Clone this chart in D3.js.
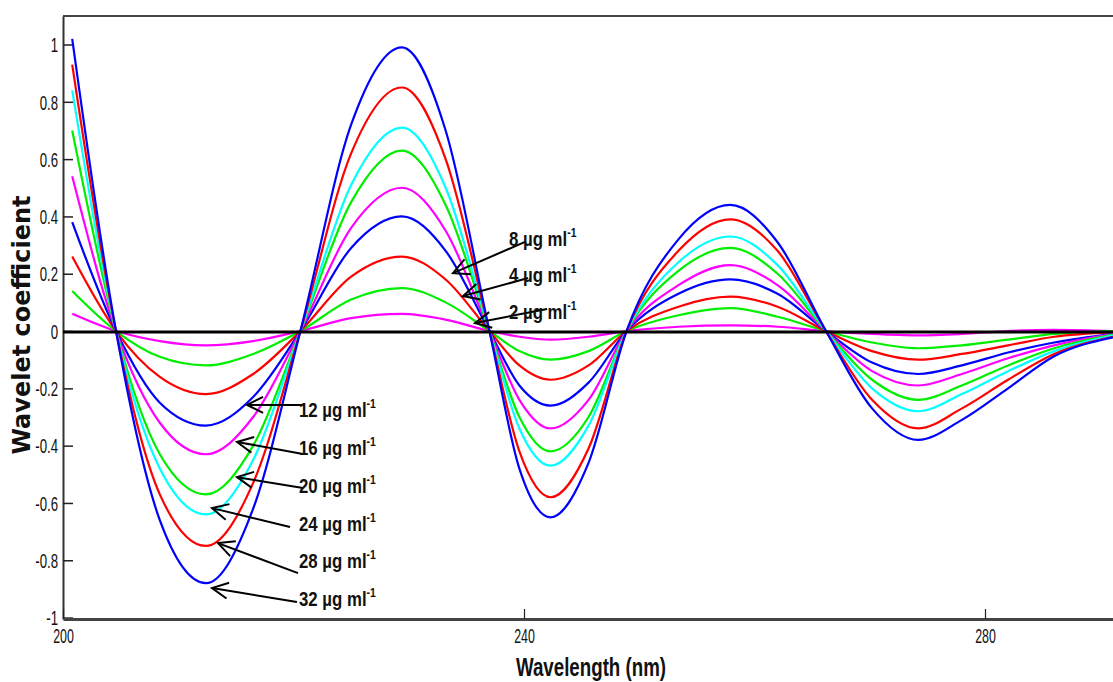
<!DOCTYPE html>
<html><head><meta charset="utf-8">
<script src="https://cdn.jsdelivr.net/npm/d3@7"></script>
<style>
html,body{margin:0;padding:0;background:#fff;overflow:hidden}
svg{display:block}
</style></head>
<body>
<svg id="c" width="1113" height="682"></svg>
<script>
// ---- data ----
const wavelengths = [200.8, 204.6, 208.4, 212.4, 216.5, 220.6, 225.0, 229.4, 233.2, 237.0, 239.6, 242.3, 245.6, 248.9, 253.4, 257.9, 262.0, 266.2, 270.2, 274.2, 278, 282, 286, 291.1];
const concentrations = [2, 4, 8, 12, 16, 20, 24, 28, 32];
const seriesColors = ["#ff00ff", "#00ee00", "#ff0000", "#0000ff", "#ff00ff", "#00ee00", "#00ffff", "#ff0000", "#0000ff"];
const s2  = [0.06, 0, -0.035, -0.05, -0.035, 0, 0.045, 0.06, 0.04, 0, -0.02, -0.03, -0.02, 0, 0.015, 0.02, 0.015, 0, -0.01, -0.015, -0.01, 0, 0.004, 0];
const s4  = [0.14, 0, -0.09, -0.12, -0.08, 0, 0.11, 0.15, 0.10, 0, -0.07, -0.10, -0.07, 0, 0.055, 0.08, 0.05, 0, -0.04, -0.06, -0.05, -0.03, -0.01, 0];
const s8  = [0.26, 0, -0.16, -0.22, -0.15, 0, 0.19, 0.26, 0.18, 0, -0.12, -0.17, -0.12, 0, 0.085, 0.12, 0.085, 0, -0.07, -0.10, -0.08, -0.05, -0.02, -0.005];
const s12 = [0.38, 0, -0.25, -0.33, -0.23, 0, 0.29, 0.40, 0.28, 0, -0.19, -0.26, -0.18, 0, 0.13, 0.18, 0.13, 0, -0.11, -0.15, -0.12, -0.075, -0.04, -0.01];
const s16 = [0.54, 0, -0.32, -0.43, -0.30, 0, 0.36, 0.50, 0.35, 0, -0.24, -0.34, -0.24, 0, 0.16, 0.23, 0.16, 0, -0.14, -0.19, -0.15, -0.095, -0.05, -0.01];
const s20 = [0.70, 0, -0.43, -0.57, -0.40, 0, 0.45, 0.63, 0.44, 0, -0.30, -0.42, -0.30, 0, 0.21, 0.29, 0.20, 0, -0.17, -0.24, -0.19, -0.12, -0.06, -0.012];
const s24 = [0.84, 0, -0.48, -0.64, -0.45, 0, 0.51, 0.71, 0.50, 0, -0.34, -0.47, -0.33, 0, 0.24, 0.33, 0.23, 0, -0.20, -0.28, -0.22, -0.14, -0.07, -0.015];
const s28 = [0.93, 0, -0.57, -0.75, -0.53, 0, 0.62, 0.85, 0.60, 0, -0.42, -0.58, -0.41, 0, 0.28, 0.39, 0.28, 0, -0.24, -0.34, -0.27, -0.17, -0.08, -0.02];
const s32 = [1.02, 0, -0.66, -0.88, -0.62, 0, 0.72, 0.99, 0.70, 0, -0.48, -0.65, -0.46, 0, 0.32, 0.44, 0.31, 0, -0.27, -0.38, -0.31, -0.20, -0.088, -0.022];
const seriesValues = [s2, s4, s8, s12, s16, s20, s24, s28, s32];
const xTicks = [200, 240, 280];
const yTicks = [-1, -0.8, -0.6, -0.4, -0.2, 0, 0.2, 0.4, 0.6, 0.8, 1];
const yTickLabels = ["-1", "-0.8", "-0.6", "-0.4", "-0.2", "0", "0.2", "0.4", "0.6", "0.8", "1"];
// annotations: label concentration, arrow tip (nm, value), arrow tail (nm, value), text anchor (nm, value)
const annConc  = [8, 4, 2, 12, 16, 20, 24, 28, 32];
const annTipX  = [233.84, 234.71, 235.75, 215.97, 215.10, 215.10, 212.93, 213.45, 212.93];
const annTipY  = [0.202, 0.122, 0.028, -0.258, -0.387, -0.510, -0.618, -0.740, -0.897];
const annTailX = [240.09, 240.35, 242.0, 220.74, 220.82, 220.82, 219.70, 220.39, 220.30];
const annTailY = [0.311, 0.185, 0.077, -0.258, -0.429, -0.548, -0.684, -0.845, -0.946];
const annTextX = [238.70, 238.70, 238.70, 220.48, 220.48, 220.48, 220.48, 220.48, 220.48];
const annTextY = [0.297, 0.171, 0.042, -0.300, -0.433, -0.565, -0.698, -0.827, -0.960];

// ---- drawing ----
const svg = d3.select("#c");
const x = d3.scaleLinear().domain([200, 292]).range([63, 1123.3]);
const y = d3.scaleLinear().domain([-1.005, 1.0995]).range([619, 16]);
const SANS = "Liberation Sans, Arial, sans-serif";

// frame
svg.append("line").attr("x1", x(200)).attr("x2", x(292)).attr("y1", y.range()[1]).attr("y2", y.range()[1])
  .attr("stroke", "#444").attr("stroke-width", 2);
svg.append("line").attr("x1", x(292)).attr("x2", x(292)).attr("y1", 16).attr("y2", 619)
  .attr("stroke", "#444").attr("stroke-width", 2);

// y axis (ticks inward)
const yAxisG = svg.append("g").attr("transform", `translate(${x(200)},0)`)
  .call(d3.axisLeft(y).tickValues(yTicks).tickSizeInner(-10).tickSizeOuter(0)
    .tickFormat((d, i) => yTickLabels[i]));
yAxisG.select(".domain").attr("stroke", "#333").attr("stroke-width", 2);
yAxisG.selectAll(".tick line").attr("stroke", "#222").attr("stroke-width", 1.5);
yAxisG.selectAll(".tick text").attr("font-family", SANS).attr("font-size", 20).attr("fill", "#111")
  .attr("x", -5 / 0.66).attr("dy", "0.36em").attr("transform", "scale(0.66,1)");

// right axis ticks
const yAxisR = svg.append("g").attr("transform", `translate(${x(292)},0)`)
  .call(d3.axisRight(y).tickValues(yTicks).tickSizeInner(-10).tickSizeOuter(0).tickFormat(""));
yAxisR.select(".domain").remove();
yAxisR.selectAll(".tick line").attr("stroke", "#222").attr("stroke-width", 1.5);

// x axis
const xAxisG = svg.append("g").attr("transform", `translate(0,${y(-1.005)})`)
  .call(d3.axisBottom(x).tickValues(xTicks).tickSizeInner(-10).tickSizeOuter(0));
xAxisG.select(".domain").attr("stroke", "#444").attr("stroke-width", 3);
xAxisG.selectAll(".tick line").attr("stroke", "#222").attr("stroke-width", 1.2);
xAxisG.selectAll(".tick text").attr("font-family", SANS).attr("font-size", 20).attr("fill", "#111")
  .attr("y", 24).attr("dy", 0).attr("transform", "scale(0.62,1)");

// curves
const line = d3.line().x((d, i) => x(wavelengths[i])).y(d => y(d)).curve(d3.curveMonotoneX);
seriesValues.forEach((vals, k) => {
  svg.append("path").datum(vals).attr("d", line)
    .attr("fill", "none").attr("stroke", seriesColors[k]).attr("stroke-width", 2.2);
});

// zero line
svg.append("line").attr("x1", x(200)).attr("x2", x(291.1)).attr("y1", y(0) + 1).attr("y2", y(0) + 1)
  .attr("stroke", "#000").attr("stroke-width", 3);

// arrows
svg.append("defs").append("marker").attr("id", "arr")
  .attr("markerUnits", "userSpaceOnUse").attr("markerWidth", 24).attr("markerHeight", 24)
  .attr("viewBox", "-20 -12 24 24").attr("refX", 0).attr("refY", 0).attr("orient", "auto")
  .append("path").attr("d", "M-16,-8 L0,0 L-16,8").attr("fill", "none").attr("stroke", "#000").attr("stroke-width", 2);

annConc.forEach((c, i) => {
  svg.append("line")
    .attr("x1", x(annTailX[i])).attr("y1", y(annTailY[i]))
    .attr("x2", x(annTipX[i])).attr("y2", y(annTipY[i]))
    .attr("stroke", "#000").attr("stroke-width", 2).attr("marker-end", "url(#arr)");
  const t = svg.append("text")
    .attr("transform", `translate(${x(annTextX[i])},${y(annTextY[i])}) scale(0.8,1)`)
    .attr("font-family", SANS).attr("font-size", 21).attr("font-weight", "bold").attr("fill", "#111");
  t.append("tspan").text(c + " µg ml");
  t.append("tspan").text("-1").attr("font-size", 13).attr("dy", -9);
});

// axis titles
svg.append("text").attr("transform", "translate(591,676) scale(0.72,1)")
  .attr("text-anchor", "middle").attr("font-family", SANS)
  .attr("font-size", 26).attr("font-weight", "bold").attr("fill", "#111")
  .text("Wavelength (nm)");
svg.append("text").attr("transform", "translate(30,325) rotate(-90)")
  .attr("text-anchor", "middle").attr("font-family", "DejaVu Sans, Verdana, sans-serif")
  .attr("font-size", 24).attr("font-weight", "bold").attr("fill", "#111")
  .text("Wavelet coefficient");
</script>
</body></html>
